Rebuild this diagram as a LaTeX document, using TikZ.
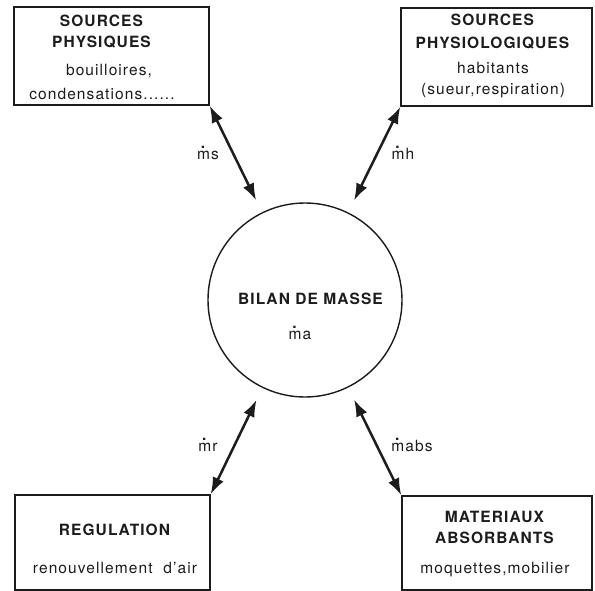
\documentclass[tikz,border=0pt]{standalone}
\usepackage{fontspec}
\setmainfont[LetterSpace=7]{TeX Gyre Heros}
\usetikzlibrary{arrows.meta}
\definecolor{inkdark}{HTML}{1C1C1C}
\definecolor{pagewhite}{HTML}{FFFFFF}
\newcommand{\schematext}{\fontsize{15.5}{21}\selectfont}
\newcommand{\mdot}{\leavevmode\setbox0\hbox{m}\rlap{\hbox to \wd0{\hss\raisebox{0.72em}{\textbf{.}}\hss}}m}

\begin{document}
\begin{tikzpicture}[x=1pt,y=-1pt,font=\schematext,
  sourcebox/.style={draw=inkdark,line width=1.4pt,inner sep=0pt},
  boxtext/.style={align=center,color=inkdark,inner sep=0pt},
  flux/.style={{Latex[length=17pt,width=12pt]}-{Latex[length=17pt,width=12pt]},line width=2.5pt,color=inkdark},
  fluxlabel/.style={color=inkdark,inner sep=0pt}]
\useasboundingbox[fill=pagewhite] (0,0) rectangle (595,591);

% the four sources and sinks
\node[sourcebox,minimum width=195pt,minimum height=98pt] (phys) at (111.5,56) {};
\node[boxtext] (physt) at (102,57) {\textbf{SOURCES}\\\textbf{PHYSIQUES}\\[7pt]\hspace*{14pt}bouilloires,\\[3pt]condensations......};

\node[sourcebox,minimum width=191pt,minimum height=98pt] (physio) at (496.5,57) {};
\node[boxtext] (physiot) at (493,56) {\textbf{SOURCES}\\[2pt]\textbf{PHYSIOLOGIQUES}\\[4pt]habitants\\(sueur,respiration)};

\node[sourcebox,minimum width=195pt,minimum height=95pt] (regul) at (112.5,542.5) {};
\node[boxtext] (regult) at (115,549) {\textbf{REGULATION}\\[17pt]renouvellement\ \ d'air};

\node[sourcebox,minimum width=190pt,minimum height=94pt] (mater) at (497,543) {};
\node[boxtext] (matert) at (495,544) {\textbf{MATERIAUX}\\\textbf{ABSORBANTS}\\[9pt]moquettes,mobilier};

% mass balance
\node[draw=inkdark,line width=1.4pt,circle,minimum size=194pt,inner sep=0pt,outer sep=14pt] (masse) at (305,300) {};
\node[boxtext] (bilan) at (311,299) {\textbf{BILAN DE MASSE}};
\node[boxtext] (ma) at (300,333) {\mdot a};

\draw[flux] (phys.south east) -- (masse);
\draw[flux] (physio.south west) -- (masse);
\draw[flux] (regul.north east) -- (masse);
\draw[flux] (mater.north west) -- (masse);

\node[fluxlabel] (ms) at (208,153) {\mdot s};
\node[fluxlabel] (mh) at (403,153) {\mdot h};
\node[fluxlabel] (mr) at (208,445) {\mdot r};
\node[fluxlabel] (mabs) at (412,445) {\mdot abs};
\end{tikzpicture}
\end{document}
